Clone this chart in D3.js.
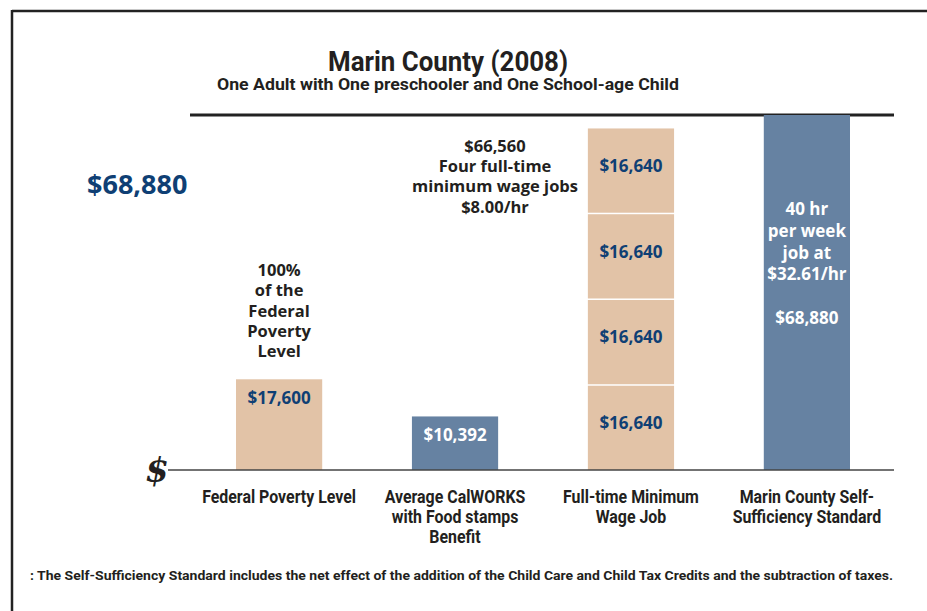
<!DOCTYPE html>
<html>
<head>
<meta charset="utf-8">
<script src="https://cdn.jsdelivr.net/npm/d3@7"></script>
<style>
  body { margin: 0; background: #fff; }
  svg { display: block; }
  .cond { font-family: Roboto, "Noto Sans", sans-serif; }
  .wide { font-family: "Open Sans", "DejaVu Sans", sans-serif; font-weight: 700; }
</style>
</head>
<body>
<svg id="chart" width="927" height="611"></svg>
<script>
// categories and their wrapped axis labels
const categories = ["fpl", "calworks", "minwage", "selfsuff"];
const categoryLabels = [
  ["Federal Poverty Level"],
  ["Average CalWORKS", "with Food stamps", "Benefit"],
  ["Full-time Minimum", "Wage Job"],
  ["Marin County Self-", "Sufficiency Standard"]
];
// stacked pieces of each bar (annual $)
const barSegments = [
  [17600],
  [10392],
  [16640, 16640, 16640, 16640],
  [68880]
];
const segmentLabels = [
  ["$17,600"],
  ["$10,392"],
  ["$16,640", "$16,640", "$16,640", "$16,640"],
  []
];
const barColors = ["#e2c3a7", "#6682a2", "#e2c3a7", "#6682a2"];
const topNotes = [
  ["100%", "of the", "Federal", "Poverty", "Level"],
  [],
  ["$66,560", "Four full-time", "minimum wage jobs", "$8.00/hr"],
  []
];
const selfSuffText = ["40 hr", "per week", "job at", "$32.61/hr", "", "$68,880"];
const maxValue = 68880;

const svg = d3.select("#chart");
const darkBlue = "#0f3f74", ink = "#231f20";

// squeeze a text into a narrower width (no condensed fonts installed)
function squeeze(sel, factor) {
  sel.each(function () {
    const w = this.getComputedTextLength();
    if (w > 0) d3.select(this).attr("textLength", w * factor).attr("lengthAdjust", "spacingAndGlyphs");
  });
}

// frame: top and left rules only
svg.append("line").attr("x1", 12).attr("x2", 927).attr("y1", 11).attr("y2", 11)
  .attr("stroke", "#222").attr("stroke-width", 2.5);
svg.append("line").attr("x1", 12).attr("x2", 12).attr("y1", 10).attr("y2", 611)
  .attr("stroke", "#222").attr("stroke-width", 2.5);

// titles
svg.append("text").attr("class", "cond").attr("x", 448).attr("y", 71)
  .attr("text-anchor", "middle").attr("font-weight", 700).attr("font-size", 28)
  .attr("fill", ink).text("Marin County (2008)")
  .attr("textLength", 240).attr("lengthAdjust", "spacingAndGlyphs");
svg.append("text").attr("class", "cond").attr("x", 448).attr("y", 90)
  .attr("text-anchor", "middle").attr("font-weight", 700).attr("font-size", 17)
  .attr("fill", ink).text("One Adult with One preschooler and One School-age Child")
  .attr("textLength", 462).attr("lengthAdjust", "spacingAndGlyphs");

const x = d3.scaleBand().domain(categories).range([236, 850]).paddingInner(0.51).paddingOuter(0);
const y = d3.scaleLinear().domain([0, maxValue]).range([470, 115]);

// top rule at the max value
svg.append("line").attr("x1", 190).attr("x2", 894).attr("y1", y(maxValue)).attr("y2", y(maxValue))
  .attr("stroke", "#222").attr("stroke-width", 3);

// bars
categories.forEach((c, i) => {
  let acc = 0;
  const segs = barSegments[i].map((v, j) => {
    const s = { y0: acc, y1: acc + v, label: segmentLabels[i][j] };
    acc += v;
    return s;
  });
  const stacked = segs.length > 1;
  const g = svg.append("g");
  g.selectAll("rect").data(segs).join("rect")
    .attr("x", x(c))
    .attr("width", x.bandwidth())
    .attr("y", d => y(d.y1) + (stacked ? 1.5 : 0))
    .attr("height", d => y(d.y0) - y(d.y1) - (stacked ? 1.5 : 0))
    .attr("fill", barColors[i]);
  g.selectAll("text.val").data(segs.filter(d => d.label)).join("text")
    .attr("class", "val wide")
    .attr("x", x(c) + x.bandwidth() / 2)
    .attr("y", d => y(d.y1) + (stacked ? 45 : 25))
    .attr("text-anchor", "middle").attr("font-size", 17)
    .attr("fill", c === "calworks" ? "#fff" : darkBlue)
    .text(d => d.label);

  // notes above bars
  const top = y(acc);
  const notes = topNotes[i];
  const cx = c === "minwage" ? 495 : x(c) + x.bandwidth() / 2;
  const firstY = c === "minwage" ? 152 : top - 103;
  svg.append("g").selectAll("text").data(notes).join("text")
    .attr("class", "wide")
    .attr("x", cx).attr("y", (d, k) => firstY + k * 20.2)
    .attr("text-anchor", "middle").attr("font-size", 16.5).attr("fill", ink)
    .text(d => d);
});

// text inside the self-sufficiency bar
svg.append("g").selectAll("text").data(selfSuffText).join("text")
  .attr("class", "wide")
  .attr("x", x("selfsuff") + x.bandwidth() / 2)
  .attr("y", (d, k) => 215 + k * 21.8)
  .attr("text-anchor", "middle").attr("font-size", 17).attr("fill", "#fff")
  .text(d => d);

// baseline
svg.append("line").attr("x1", 168).attr("x2", 894).attr("y1", y(0)).attr("y2", y(0))
  .attr("stroke", "#444").attr("stroke-width", 1.5);
svg.append("text").attr("x", 157).attr("y", 482)
  .attr("text-anchor", "middle").attr("font-family", "DejaVu Serif, serif")
  .attr("font-style", "italic").attr("font-weight", 700).attr("font-size", 34)
  .attr("fill", ink).text("$");

// left big value
svg.append("text").attr("class", "wide").attr("x", 87).attr("y", 194)
  .attr("font-size", 27).attr("fill", darkBlue).text("$68,880");

// category labels
categories.forEach((c, i) => {
  svg.append("g").selectAll("text").data(categoryLabels[i]).join("text")
    .attr("class", "cond")
    .attr("x", x(c) + x.bandwidth() / 2)
    .attr("y", (d, k) => 503 + k * 20)
    .attr("text-anchor", "middle").attr("font-size", 18.5).attr("font-weight", 700)
    .attr("fill", ink).text(d => d)
    .call(squeeze, 0.86);
});

// footnote
svg.append("text").attr("class", "cond").attr("x", 30).attr("y", 580)
  .attr("font-size", 13).attr("font-weight", 700).attr("fill", ink)
  .text(": The Self-Sufficiency Standard includes the net effect of the addition of the Child Care and Child Tax Credits and the subtraction of taxes.")
  .attr("textLength", 863).attr("lengthAdjust", "spacingAndGlyphs");
</script>
</body>
</html>
